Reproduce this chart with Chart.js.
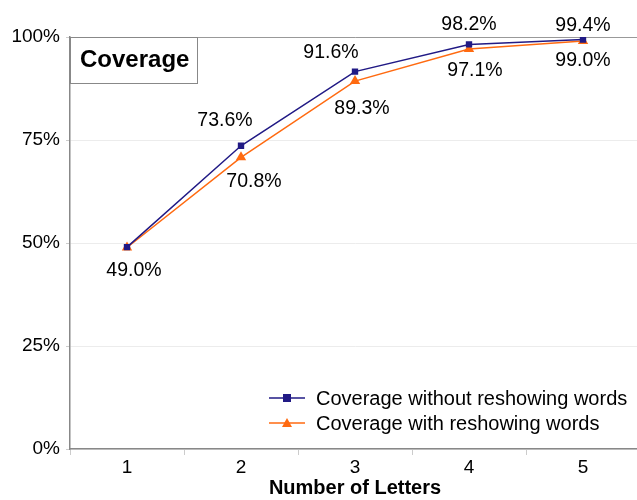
<!doctype html>
<html>
<head>
	<title>Coverage</title>
	<script src="https://cdn.jsdelivr.net/npm/chart.js@4/dist/chart.umd.min.js"></script>
	<style>
	body { margin: 0; background: #fff; overflow: hidden; }
	/* a bit wider than the window so the plot runs off the right edge like the original */
	#container { width: 646px; height: 500px; }
	</style>
</head>
<body>
	<div id="container">
		<canvas id="canvas"></canvas>
	</div>
	<script>
		var letters = ['1', '2', '3', '4', '5'];
		var withoutReshowing = [49.0, 73.6, 91.6, 98.2, 99.4];
		var withReshowing = [48.9, 70.8, 89.3, 97.1, 99.0];
		var yTicks = [0, 25, 50, 75, 100];

		// hand placed label nudges (dx, dy from the point), like the original
		var aboveShift = [null, [-16, -25], [-24, -19], [0, -20], [0, -14]];
		var belowShift = [[7, 23], [13, 24], [7, 28], [6, 22], [0, 20]];

		var blue = '#211a85';
		var orange = '#ff6a10';
		var font = '"Liberation Sans", Arial, sans-serif';

		var valueLabels = {
			id: 'valueLabels',
			afterDatasetsDraw: function(chart) {
				var ctx = chart.ctx;
				ctx.save();
				ctx.font = '19.5px ' + font;
				ctx.fillStyle = '#000';
				ctx.textAlign = 'center';
				ctx.textBaseline = 'middle';
				chart.data.datasets.forEach(function(ds, i) {
					var meta = chart.getDatasetMeta(i);
					var shifts = i === 0 ? aboveShift : belowShift;
					meta.data.forEach(function(pt, j) {
						var s = shifts[j];
						if (!s) return;
						var v = ds.data[j];
						// first point: both series meet, the label shows 49.0%
						if (j === 0) v = withoutReshowing[0];
						ctx.fillText(v.toFixed(1) + '%', pt.x + s[0], pt.y + s[1]);
					});
				});
				ctx.restore();
			}
		};

		var decorations = {
			id: 'decorations',
			afterDraw: function(chart) {
				var ctx = chart.ctx;
				var area = chart.chartArea;
				ctx.save();
				ctx.fillStyle = '#fff';
				ctx.fillRect(area.left, area.top, 127, 46);
				ctx.strokeStyle = '#888';
				ctx.lineWidth = 1;
				ctx.strokeRect(area.left + 0.5, area.top + 0.5, 127, 46);
				ctx.fillStyle = '#000';
				ctx.font = 'bold 24px ' + font;
				ctx.textAlign = 'left';
				ctx.textBaseline = 'middle';
				ctx.fillText('Coverage', area.left + 10, area.top + 23);

				var items = [
					{ text: 'Coverage without reshowing words', color: blue, shape: 'rect' },
					{ text: 'Coverage with reshowing words', color: orange, shape: 'triangle' }
				];
				ctx.font = '20px ' + font;
				items.forEach(function(it, k) {
					var y = 398 + k * 25;
					ctx.strokeStyle = it.color;
					ctx.lineWidth = 1.5;
					ctx.beginPath();
					ctx.moveTo(269, y);
					ctx.lineTo(305, y);
					ctx.stroke();
					ctx.fillStyle = it.color;
					if (it.shape === 'rect') {
						ctx.fillRect(283, y - 4, 8, 8);
					} else {
						ctx.beginPath();
						ctx.moveTo(287, y - 5);
						ctx.lineTo(292, y + 4);
						ctx.lineTo(282, y + 4);
						ctx.closePath();
						ctx.fill();
					}
					ctx.fillStyle = '#000';
					ctx.fillText(it.text, 316, y + 1);
				});
				ctx.restore();
			}
		};

		window.onload = function() {
			var ctx = document.getElementById('canvas').getContext('2d');
			window.myLine = new Chart(ctx, {
				type: 'line',
				data: {
					labels: letters,
					datasets: [{
						label: 'Coverage without reshowing words',
						data: withoutReshowing,
						borderColor: blue,
						backgroundColor: blue,
						borderWidth: 1.5,
						pointStyle: 'rect',
						pointRadius: 4.5,
						pointBorderWidth: 0,
						tension: 0
					}, {
						label: 'Coverage with reshowing words',
						data: withReshowing,
						borderColor: orange,
						backgroundColor: orange,
						borderWidth: 1.5,
						pointStyle: 'triangle',
						pointRadius: 6,
						pointBorderWidth: 0,
						tension: 0
					}]
				},
				options: {
					responsive: true,
					maintainAspectRatio: false,
					animation: false,
					layout: { padding: { top: 37, right: 0, left: 0, bottom: 0 } },
					plugins: {
						legend: { display: false },
						tooltip: { enabled: false }
					},
					scales: {
						x: {
							offset: true,
							grid: {
								offset: true,
								drawOnChartArea: false,
								tickLength: 6,
								tickColor: '#ccc'
							},
							border: { color: '#888', width: 1.5 },
							ticks: {
								color: '#000',
								font: { family: font, size: 19 },
								padding: 1
							},
							title: {
								display: true,
								text: 'Number of Letters',
								color: '#000',
								font: { family: font, size: 20, weight: 'bold' },
								padding: { top: 0, bottom: 0 }
							},
							afterFit: function(scale) { scale.height = 51; }
						},
						y: {
							min: 0,
							max: 100,
							afterBuildTicks: function(scale) {
								scale.ticks = yTicks.map(function(v) { return { value: v }; });
							},
							grid: {
								color: function(c) { return c.tick && c.tick.value === 100 ? '#999' : '#ececec'; },
								tickColor: '#ccc',
								tickLength: 4
							},
							border: { color: '#888', width: 1.5 },
							ticks: {
								color: '#000',
								font: { family: font, size: 19 },
								padding: 6,
								callback: function(v) { return v + '%'; }
							},
							afterFit: function(scale) { scale.width = 70; }
						}
					}
				},
				plugins: [valueLabels, decorations]
			});
		};
	</script>
</body>
</html>
